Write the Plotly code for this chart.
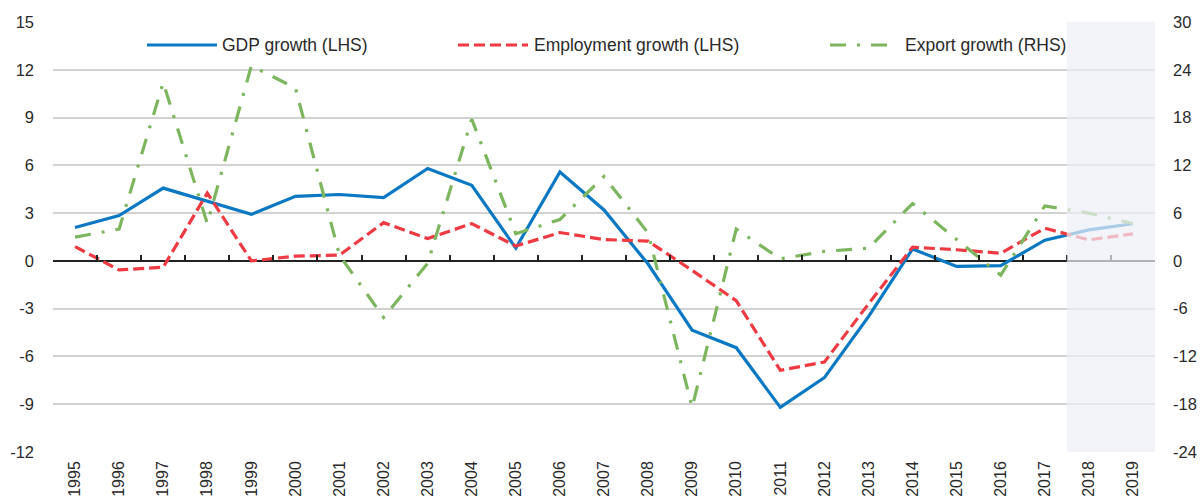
import plotly.graph_objects as go

years = list(range(1995, 2020))
gdp_growth = [2.1, 2.85, 4.57, 3.75, 2.92, 4.05, 4.17, 3.98, 5.8, 4.75, 0.8, 5.58, 3.2,
              -0.2, -4.35, -5.45, -9.2, -7.33, -3.5, 0.75, -0.35, -0.3, 1.3, 1.95, 2.33]
employment_growth = [0.9, -0.57, -0.4, 4.26, 0.0, 0.3, 0.36, 2.4, 1.4, 2.34, 0.93, 1.78, 1.34,
                     1.24, -0.6, -2.5, -6.87, -6.35, -2.7, 0.86, 0.7, 0.48, 2.05, 1.32, 1.7]
export_growth = [2.98, 4.0, 22.4, 4.7, 24.5, 21.7, 0.7, -7.1, -0.3, 17.8, 3.4, 5.2, 10.6,
                 3.5, -18.4, 4.0, 0.25, 1.2, 1.6, 7.2, 2.7, -1.8, 6.9, 6.0, 4.7]
series_names = ["GDP growth (LHS)", "Employment growth (LHS)", "Export growth (RHS)"]
left_ticks = [-12, -9, -6, -3, 0, 3, 6, 9, 12, 15]
right_ticks = [-24, -18, -12, -6, 0, 6, 12, 18, 24, 30]
projection_start = 2017.5

BLUE = "#0A78C2"
RED = "#EE3A43"
GREEN = "#7DB65E"
FONT = "Liberation Sans, Arial, Helvetica, sans-serif"
TXT = "#2a2a2a"

fig = go.Figure()
fig.add_trace(go.Scatter(x=years, y=gdp_growth, mode="lines", name=series_names[0],
                         line=dict(color=BLUE, width=3.2), showlegend=False))
fig.add_trace(go.Scatter(x=years, y=employment_growth, mode="lines", name=series_names[1],
                         line=dict(color=RED, width=3.2, dash="11px,5px"), showlegend=False))
fig.add_trace(go.Scatter(x=years, y=export_growth, mode="lines", name=series_names[2], yaxis="y2",
                         line=dict(color=GREEN, width=3.2, dash="16px,11px,3px,11px"), showlegend=False))
# invisible helper trace for the zero-line tick axis
fig.add_trace(go.Scatter(x=[years[0]], y=[0], xaxis="x2", mode="markers",
                         marker=dict(opacity=0), hoverinfo="skip", showlegend=False))

xr = [years[0] - 0.5, years[-1] + 0.5]
fig.update_layout(
    width=1202, height=496,
    margin=dict(l=53, r=47, t=22, b=44),
    paper_bgcolor="white", plot_bgcolor="white",
    font=dict(family=FONT, size=16, color=TXT),
    xaxis=dict(range=xr, tickmode="array", tickvals=years, ticktext=[str(y) for y in years],
               tickangle=-90, showgrid=False, zeroline=False, showline=False, ticks="",
               ticklabelstandoff=5, automargin=False, tickfont=dict(size=16)),
    xaxis2=dict(range=xr, overlaying="x", anchor="free", position=12 / 27, side="bottom",
                tickmode="array", tickvals=[y + 0.5 for y in [years[0] - 1] + years],
                ticks="inside", ticklen=6, tickwidth=1.5, tickcolor="#222",
                showticklabels=False, showgrid=False, zeroline=False, showline=False),
    yaxis=dict(range=[-12, 15], tickmode="array", tickvals=left_ticks,
               ticktext=[str(v) for v in left_ticks],
               showgrid=True, gridcolor="#d2d2d2", gridwidth=2,
               zeroline=True, zerolinecolor="#222", zerolinewidth=2,
               ticks="", ticklabelstandoff=18, automargin=False, tickfont=dict(size=16.5)),
    yaxis2=dict(range=[-24, 30], tickmode="array", tickvals=right_ticks,
                ticktext=[str(v) for v in right_ticks], overlaying="y",
                side="right", showgrid=False, zeroline=False, ticks="",
                ticklabelstandoff=17, automargin=False, tickfont=dict(size=16.5)),
)

# projection shading (above lines to pale them)
fig.add_shape(type="rect", xref="x", yref="paper", x0=projection_start, x1=xr[1], y0=0, y1=1,
              fillcolor="rgba(238,240,246,0.7)", line=dict(width=0), layer="above")

# manual legend
ly = 0.9465
legend_items = [
    (0.0853, 0.1488, 0.1543, BLUE, "solid"),
    (0.3675, 0.4311, 0.4374, RED, "11px,5px"),
    (0.7051, 0.7577, 0.7740, GREEN, "16px,11px,3px,11px"),
]
for (x0, x1, xt, col, dash), name in zip(legend_items, series_names):
    fig.add_shape(type="line", xref="paper", yref="paper", x0=x0, x1=x1, y0=ly, y1=ly,
                  line=dict(color=col, width=3.2, dash=dash))
    fig.add_annotation(xref="paper", yref="paper", x=xt, y=ly, text=name, showarrow=False,
                       xanchor="left", yanchor="middle", xshift=-3,
                       font=dict(size=17.5, color=TXT, family=FONT))

fig.write_html("out.html", config={"displayModeBar": False},
               post_script="document.body.style.margin='0';")
